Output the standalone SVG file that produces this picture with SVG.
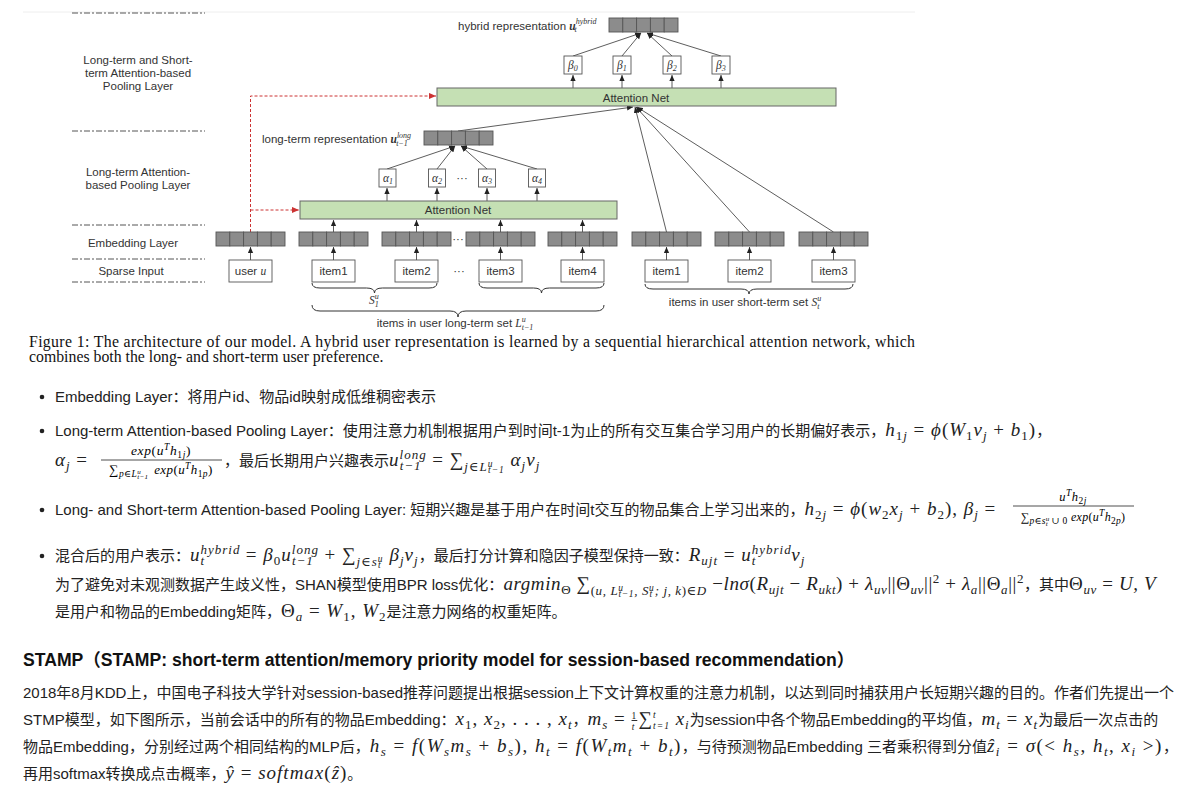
<svg xmlns="http://www.w3.org/2000/svg" width="1185" height="788" viewBox="0 0 1185 788">
<style>
.lab{font-family:"Liberation Sans",Arial,sans-serif;font-size:11.5px;fill:#333;text-anchor:middle}
.lbl{font-family:"Liberation Sans",Arial,sans-serif;font-size:11.5px;fill:#333}
.dd{stroke:#555;stroke-width:1;stroke-dasharray:6 2 2 2;fill:none}
.cell{fill:#8c8c8c;stroke:#555;stroke-width:0.9}
.box{fill:#fff;stroke:#555;stroke-width:0.9}
.an{fill:#c5e0b4;stroke:#666;stroke-width:1}
.ln{stroke:#333;stroke-width:0.8;fill:none}
.red{stroke:#cc3333;stroke-width:1;stroke-dasharray:3 2;fill:none}
.br{stroke:#333;stroke-width:1;fill:none}
.gm{font-family:"Liberation Serif","DejaVu Serif",serif;font-style:italic;font-size:11.5px;fill:#333}
.cap{font-family:"Liberation Serif",serif;font-size:15.8px;fill:#111}
.t{font-family:"Liberation Sans","Noto Sans CJK SC",sans-serif;font-size:15px;fill:#222}
.m{font-family:"Liberation Serif","DejaVu Serif",serif;font-style:italic;font-size:19px;letter-spacing:1px}
.mf{letter-spacing:0.6px}
.mw{letter-spacing:1.5px}
.n{font-style:normal}
.s{font-size:13px}
.ss{font-size:9.5px}
.sx{font-size:8px}
.h{font-family:"Liberation Sans","Noto Sans CJK SC",sans-serif;font-size:17.6px;font-weight:bold;fill:#111}
</style>
<defs>
<g id="vec">
<rect class="cell" x="0" y="0" width="13.8" height="14"/>
<rect class="cell" x="13.8" y="0" width="13.8" height="14"/>
<rect class="cell" x="27.6" y="0" width="13.8" height="14"/>
<rect class="cell" x="41.4" y="0" width="13.8" height="14"/>
<rect class="cell" x="55.2" y="0" width="13.8" height="14"/>
</g>
<marker id="a" viewBox="0 0 8 8" refX="8" refY="4" markerWidth="6" markerHeight="6" markerUnits="userSpaceOnUse" orient="auto"><path d="M0,0.5 L8,4 L0,7.5z" fill="#222"/></marker>
<marker id="ar" viewBox="0 0 8 8" refX="8" refY="4" markerWidth="7" markerHeight="7" markerUnits="userSpaceOnUse" orient="auto"><path d="M0,0.5 L8,4 L0,7.5z" fill="#cc3333"/></marker>
</defs>

<line x1="23" y1="12" x2="915" y2="12" stroke="#eeeeee" stroke-width="1"/>

<g id="layer-guides">
<line class="dd" x1="72" y1="13" x2="205" y2="13"/>
<line class="dd" x1="72" y1="131" x2="205" y2="131"/>
<line class="dd" x1="72" y1="225" x2="205" y2="225"/>
<line class="dd" x1="72" y1="259" x2="205" y2="259"/>
<line class="dd" x1="72" y1="282" x2="205" y2="282"/>
<text class="lab" x="138" y="64">Long-term and Short-</text>
<text class="lab" x="138" y="77">term Attention-based</text>
<text class="lab" x="138" y="90">Pooling  Layer</text>
<text class="lab" x="138" y="176">Long-term Attention-</text>
<text class="lab" x="138" y="189">based Pooling  Layer</text>
<text class="lab" x="133" y="247">Embedding  Layer</text>
<text class="lab" x="131" y="275">Sparse Input</text>
</g>

<g id="connectors">
<line class="ln" x1="250.5" y1="260" x2="250.5" y2="247" marker-end="url(#a)"/>
<line class="ln" x1="333.5" y1="260" x2="333.5" y2="247" marker-end="url(#a)"/>
<line class="ln" x1="416.5" y1="260" x2="416.5" y2="247" marker-end="url(#a)"/>
<line class="ln" x1="500.5" y1="260" x2="500.5" y2="247" marker-end="url(#a)"/>
<line class="ln" x1="582.5" y1="260" x2="582.5" y2="247" marker-end="url(#a)"/>
<line class="ln" x1="666.5" y1="260" x2="666.5" y2="247" marker-end="url(#a)"/>
<line class="ln" x1="749.5" y1="260" x2="749.5" y2="247" marker-end="url(#a)"/>
<line class="ln" x1="833.5" y1="260" x2="833.5" y2="247" marker-end="url(#a)"/>
<line class="ln" x1="333.5" y1="232" x2="333.5" y2="220" marker-end="url(#a)"/>
<line class="ln" x1="416.5" y1="232" x2="416.5" y2="220" marker-end="url(#a)"/>
<line class="ln" x1="500.5" y1="232" x2="500.5" y2="220" marker-end="url(#a)"/>
<line class="ln" x1="582.5" y1="232" x2="582.5" y2="220" marker-end="url(#a)"/>
<line class="ln" x1="387" y1="201" x2="387" y2="188" marker-end="url(#a)"/>
<line class="ln" x1="437" y1="201" x2="437" y2="188" marker-end="url(#a)"/>
<line class="ln" x1="487" y1="201" x2="487" y2="188" marker-end="url(#a)"/>
<line class="ln" x1="537" y1="201" x2="537" y2="188" marker-end="url(#a)"/>
<line class="ln" x1="387" y1="169" x2="455" y2="146" marker-end="url(#a)"/>
<line class="ln" x1="437" y1="169" x2="455" y2="146" marker-end="url(#a)"/>
<line class="ln" x1="487" y1="169" x2="461" y2="146" marker-end="url(#a)"/>
<line class="ln" x1="537" y1="169" x2="461" y2="146" marker-end="url(#a)"/>
<line class="ln" x1="458" y1="131" x2="633" y2="107" marker-end="url(#a)"/>
<line class="ln" x1="666.5" y1="232" x2="635" y2="107" marker-end="url(#a)"/>
<line class="ln" x1="749.5" y1="232" x2="636" y2="107" marker-end="url(#a)"/>
<line class="ln" x1="833.5" y1="232" x2="637" y2="107" marker-end="url(#a)"/>
<line class="ln" x1="573" y1="88" x2="573" y2="75" marker-end="url(#a)"/>
<line class="ln" x1="622" y1="88" x2="622" y2="75" marker-end="url(#a)"/>
<line class="ln" x1="672" y1="88" x2="672" y2="75" marker-end="url(#a)"/>
<line class="ln" x1="721" y1="88" x2="721" y2="75" marker-end="url(#a)"/>
<line class="ln" x1="573" y1="56" x2="641" y2="33" marker-end="url(#a)"/>
<line class="ln" x1="622" y1="56" x2="641" y2="33" marker-end="url(#a)"/>
<line class="ln" x1="672" y1="56" x2="647" y2="33" marker-end="url(#a)"/>
<line class="ln" x1="721" y1="56" x2="647" y2="33" marker-end="url(#a)"/>
<path class="red" d="M250.5,232 V96 H436" marker-end="url(#ar)"/>
<path class="red" d="M250.5,210 H299" marker-end="url(#ar)"/>
</g>

<g id="input-user"><rect class="box" x="229" y="260" width="43" height="22"/><text class="lab" x="250.5" y="275">user <tspan class="gm">u</tspan></text></g>
<g id="input-item1"><rect class="box" x="312" y="260" width="43" height="22"/><text class="lab" x="333.5" y="275">item1</text></g>
<g id="input-item2"><rect class="box" x="395" y="260" width="43" height="22"/><text class="lab" x="416.5" y="275">item2</text></g>
<g id="input-dots"><text class="lab" x="459" y="275">···</text></g>
<g id="input-item3"><rect class="box" x="479" y="260" width="43" height="22"/><text class="lab" x="500.5" y="275">item3</text></g>
<g id="input-item4"><rect class="box" x="561" y="260" width="43" height="22"/><text class="lab" x="582.5" y="275">item4</text></g>
<g id="input-s-item1"><rect class="box" x="645" y="260" width="43" height="22"/><text class="lab" x="666.5" y="275">item1</text></g>
<g id="input-s-item2"><rect class="box" x="728" y="260" width="43" height="22"/><text class="lab" x="749.5" y="275">item2</text></g>
<g id="input-s-item3"><rect class="box" x="812" y="260" width="43" height="22"/><text class="lab" x="833.5" y="275">item3</text></g>

<g id="emb-user"><use href="#vec" x="216" y="232"/></g>
<g id="emb-item1"><use href="#vec" x="299" y="232"/></g>
<g id="emb-item2"><use href="#vec" x="382" y="232"/><text class="lab" x="458" y="243">···</text></g>
<g id="emb-item3"><use href="#vec" x="466" y="232"/></g>
<g id="emb-item4"><use href="#vec" x="548" y="232"/></g>
<g id="emb-s-item1"><use href="#vec" x="632" y="232"/></g>
<g id="emb-s-item2"><use href="#vec" x="715" y="232"/></g>
<g id="emb-s-item3"><use href="#vec" x="799" y="232"/></g>

<g id="attention-net-long"><rect class="an" x="300" y="201" width="317" height="18"/><text class="lab" x="458" y="214">Attention Net</text></g>
<g id="alpha1"><rect class="box" x="379" y="169" width="17" height="18"/><text class="gm" x="383" y="182">α<tspan class="sx" dy="2">1</tspan></text></g>
<g id="alpha2"><rect class="box" x="428.5" y="169" width="17" height="18"/><text class="gm" x="432" y="182">α<tspan class="sx" dy="2">2</tspan></text></g>
<g id="alpha-dots"><text class="lab" x="462" y="182">···</text></g>
<g id="alpha3"><rect class="box" x="478.5" y="169" width="17" height="18"/><text class="gm" x="482" y="182">α<tspan class="sx" dy="2">3</tspan></text></g>
<g id="alpha4"><rect class="box" x="528.5" y="169" width="17" height="18"/><text class="gm" x="532" y="182">α<tspan class="sx" dy="2">4</tspan></text></g>
<g id="long-term-rep"><use href="#vec" x="424" y="131"/><text class="lbl" x="262" y="143">long-term representation <tspan class="gm" style="font-weight:bold">u</tspan><tspan class="gm sx" dy="-5">long</tspan><tspan class="gm sx" dy="8" dx="-15">t−1</tspan></text></g>

<g id="attention-net-hybrid"><rect class="an" x="437" y="88" width="399" height="18"/><text class="lab" x="636" y="102">Attention Net</text></g>
<g id="beta0"><rect class="box" x="564" y="56" width="18" height="18"/><text class="gm" x="568" y="69">β<tspan class="sx" dy="2">0</tspan></text></g>
<g id="beta1"><rect class="box" x="613" y="56" width="18" height="18"/><text class="gm" x="617" y="69">β<tspan class="sx" dy="2">1</tspan></text></g>
<g id="beta2"><rect class="box" x="663" y="56" width="18" height="18"/><text class="gm" x="667" y="69">β<tspan class="sx" dy="2">2</tspan></text></g>
<g id="beta3"><rect class="box" x="712" y="56" width="18" height="18"/><text class="gm" x="716" y="69">β<tspan class="sx" dy="2">3</tspan></text></g>
<g id="hybrid-rep"><use href="#vec" x="609" y="18"/><text class="lbl" x="458" y="30">hybrid representation <tspan class="gm" style="font-weight:bold">u</tspan><tspan class="gm sx" dy="-6">hybrid</tspan><tspan class="gm sx" dy="8" dx="-22">t</tspan></text></g>

<g id="braces">
<path class="br" d="M312,283 Q312,288 320,288 L366.5,288 Q374.5,288 374.5,293 Q374.5,288 382.5,288 L429,288 Q437,288 437,283"/>
<path class="br" d="M479,283 Q479,288 487,288 L533.5,288 Q541.5,288 541.5,293 Q541.5,288 549.5,288 L596,288 Q604,288 604,283"/>
<path class="br" d="M312,305 Q312,311 320,311 L450,311 Q458,311 458,317 Q458,311 466,311 L596,311 Q604,311 604,305"/>
<path class="br" d="M645,284 Q645,289 653,289 L741,289 Q749,289 749,294 Q749,289 757,289 L845,289 Q853,289 853,284"/>
<text class="gm" x="369" y="304">S<tspan class="sx" dy="-5">u</tspan><tspan class="sx" dy="8" dx="-4">1</tspan></text>
<text class="lab" x="745" y="306">items in user short-term set <tspan class="gm">S</tspan><tspan class="gm sx" dy="-5">u</tspan><tspan class="gm sx" dy="8" dx="-4">t</tspan></text>
<text class="lab" x="455" y="327">items in user long-term set <tspan class="gm">L</tspan><tspan class="gm sx" dy="-5">u</tspan><tspan class="gm sx" dy="8" dx="-4">t−1</tspan></text>
</g>

<g id="caption">
<text class="cap" x="29" y="347" textLength="886" lengthAdjust="spacing">Figure 1: The architecture of our model.  A hybrid user representation is learned by a sequential hierarchical attention network, which</text>
<text class="cap" x="29" y="362">combines both the long- and short-term user preference.</text>
</g>

<g id="bullets" fill="#222">
<circle cx="42" cy="397" r="2.3"/>
<circle cx="42" cy="431" r="2.3"/>
<circle cx="42" cy="510" r="2.3"/>
<circle cx="42" cy="556" r="2.3"/>
</g>

<g id="text-body">
<text class="t" x="55" y="402">Embedding Layer：将用户id、物品id映射成低维稠密表示</text>

<text class="t" x="55" y="436">Long-term Attention-based Pooling Layer：使用注意力机制根据用户到时间t-1为止的所有交互集合学习用户的长期偏好表示，<tspan class="m">h<tspan class="s n" dy="4">1</tspan><tspan class="s">j</tspan><tspan class="n" dy="-4"> = </tspan>ϕ<tspan class="n">(</tspan>W<tspan class="s n" dy="4">1</tspan><tspan dy="-4">v</tspan><tspan class="s" dy="4">j</tspan><tspan class="n" dy="-4"> + </tspan>b<tspan class="s n" dy="4">1</tspan><tspan class="n" dy="-4">)</tspan></tspan>，</text>

<text class="t" x="55" y="466"><tspan class="m">α<tspan class="s" dy="4">j</tspan><tspan class="n" dy="-4"> =</tspan></tspan></text>
<text class="m" x="161" y="455" text-anchor="middle" style="font-size:13.5px;letter-spacing:0.6px">exp<tspan class="n">(</tspan>u<tspan class="ss" dy="-5">T</tspan><tspan dy="5">h</tspan><tspan class="ss n" dy="3">1</tspan><tspan class="ss">j</tspan><tspan class="n" dy="-3">)</tspan></text>
<line x1="101" y1="460" x2="222" y2="460" stroke="#222" stroke-width="0.8"/>
<text class="m" x="161" y="474" text-anchor="middle" style="font-size:13px;letter-spacing:0.4px"><tspan class="n">∑</tspan><tspan class="ss" dy="3">p∈L</tspan><tspan style="font-size:7px" dy="-3">u</tspan><tspan style="font-size:7px" dy="5" dx="-4">t−1</tspan><tspan dy="-5" dx="2"> exp</tspan><tspan class="n">(</tspan>u<tspan class="ss" dy="-5">T</tspan><tspan dy="5">h</tspan><tspan class="ss n" dy="3">1</tspan><tspan class="ss">p</tspan><tspan class="n" dy="-3">)</tspan></text>
<text class="t" x="224" y="466">，最后长期用户兴趣表示<tspan class="m">u<tspan class="s" dy="-7">long</tspan><tspan class="s" dy="11" dx="-27">t−1</tspan><tspan class="n" dy="-4" dx="5"> = ∑</tspan><tspan class="s" dy="5">j∈L</tspan><tspan class="ss" dy="-4">u</tspan><tspan class="ss" dy="6" dx="-5.5">t−1</tspan><tspan dy="-7"> α</tspan><tspan class="s" dy="4">j</tspan><tspan dy="-4">v</tspan><tspan class="s" dy="4">j</tspan></tspan></text>

<text class="t" x="55" y="515">Long- and Short-term Attention-based Pooling Layer: 短期兴趣是基于用户在时间t交互的物品集合上学习出来的，<tspan class="m">h<tspan class="s n" dy="4">2</tspan><tspan class="s">j</tspan><tspan class="n" dy="-4"> = </tspan>ϕ<tspan class="n">(</tspan>w<tspan class="s n" dy="4">2</tspan><tspan dy="-4">x</tspan><tspan class="s" dy="4">j</tspan><tspan class="n" dy="-4"> + </tspan>b<tspan class="s n" dy="4">2</tspan><tspan class="n" dy="-4">), </tspan>β<tspan class="s" dy="4">j</tspan><tspan class="n" dy="-4"> =</tspan></tspan></text>
<text class="m" x="1073" y="501" text-anchor="middle" style="font-size:12.5px;letter-spacing:0.5px">u<tspan class="ss" dy="-5">T</tspan><tspan dy="5">h</tspan><tspan class="ss n" dy="3">2</tspan><tspan class="ss">j</tspan></text>
<line x1="1013" y1="506" x2="1134" y2="506" stroke="#222" stroke-width="0.8"/>
<text class="m" x="1073" y="521" text-anchor="middle" style="font-size:12px;letter-spacing:0.3px"><tspan class="n">∑</tspan><tspan class="ss" dy="3">p∈s</tspan><tspan style="font-size:7px" dy="-3">u</tspan><tspan style="font-size:7px" dy="5" dx="-4">t</tspan><tspan class="ss n" dy="-2" dx="1"> ∪ 0</tspan><tspan dy="-3"> exp</tspan><tspan class="n">(</tspan>u<tspan class="ss" dy="-5">T</tspan><tspan dy="5">h</tspan><tspan class="ss n" dy="3">2</tspan><tspan class="ss">p</tspan><tspan class="n" dy="-3">)</tspan></text>

<text class="t" x="55" y="561">混合后的用户表示：<tspan class="m">u<tspan class="s" dy="-7">hybrid</tspan><tspan class="s" dy="11" dx="-40">t</tspan><tspan class="n" dy="-4" dx="35"> = </tspan>β<tspan class="s n" dy="4">0</tspan><tspan dy="-4">u</tspan><tspan class="s" dy="-7">long</tspan><tspan class="s" dy="11" dx="-27">t−1</tspan><tspan class="n" dy="-4" dx="5"> + ∑</tspan><tspan class="s" dy="5">j∈s</tspan><tspan class="ss" dy="-4">u</tspan><tspan class="ss" dy="6" dx="-5.5">t</tspan><tspan dy="-7" dx="2"> β</tspan><tspan class="s" dy="4">j</tspan><tspan dy="-4">v</tspan><tspan class="s" dy="4">j</tspan></tspan><tspan dy="-4">，最后打分计算和隐因子模型保持一致：</tspan><tspan class="m">R<tspan class="s" dy="4">ujt</tspan><tspan class="n" dy="-4"> = </tspan>u<tspan class="s" dy="-7">hybrid</tspan><tspan class="s" dy="11" dx="-40">t</tspan><tspan dy="-4" dx="35">v</tspan><tspan class="s" dy="4">j</tspan></tspan></text>

<text class="t" x="55" y="590">为了避免对未观测数据产生歧义性，SHAN模型使用BPR loss优化：<tspan class="m mf">argmin<tspan class="s n" dy="4">Θ</tspan><tspan class="n" dy="-4"> ∑</tspan><tspan class="s" dy="5"><tspan class="n">(</tspan>u, L</tspan><tspan class="ss" dy="-4">u</tspan><tspan class="ss" dy="6" dx="-5">t−1</tspan><tspan class="s" dy="-2">, S</tspan><tspan class="ss" dy="-4">u</tspan><tspan class="ss" dy="6" dx="-5">t</tspan><tspan class="s" dy="-2" dx="2">; j, k</tspan><tspan class="s n">)∈</tspan><tspan class="s">D</tspan><tspan class="n" dy="-5"> −</tspan>lnσ<tspan class="n">(</tspan>R<tspan class="s" dy="4">ujt</tspan><tspan class="n" dy="-4"> − </tspan>R<tspan class="s" dy="4">ukt</tspan><tspan class="n" dy="-4">) + </tspan>λ<tspan class="s" dy="4">uv</tspan><tspan class="n" dy="-4">||Θ</tspan><tspan class="s" dy="4">uv</tspan><tspan class="n" dy="-4">||</tspan><tspan class="s n" dy="-7">2</tspan><tspan class="n" dy="7"> + </tspan>λ<tspan class="s" dy="4">a</tspan><tspan class="n" dy="-4">||Θ</tspan><tspan class="s" dy="4">a</tspan><tspan class="n" dy="-4">||</tspan><tspan class="s n" dy="-7">2</tspan></tspan><tspan dy="7">，其中</tspan><tspan class="m mf"><tspan class="n">Θ</tspan><tspan class="s" dy="4">uv</tspan><tspan class="n" dy="-4"> = </tspan>U, V</tspan></text>

<text class="t" x="55" y="617">是用户和物品的Embedding矩阵，<tspan class="m"><tspan class="n">Θ</tspan><tspan class="s" dy="4">a</tspan><tspan class="n" dy="-4"> = </tspan>W<tspan class="s n" dy="4">1</tspan><tspan class="n" dy="-4">, </tspan>W<tspan class="s n" dy="4">2</tspan></tspan><tspan dy="-4">是注意力网络的权重矩阵。</tspan></text>

<text class="h" x="23" y="666">STAMP（STAMP: short-term attention/memory priority model for session-based recommendation）</text>

<text class="t" x="23" y="698">2018年8月KDD上，中国电子科技大学针对session-based推荐问题提出根据session上下文计算权重的注意力机制，以达到同时捕获用户长短期兴趣的目的。作者们先提出一个</text>

<text class="t" x="23" y="725">STMP模型，如下图所示，当前会话中的所有的物品Embedding：<tspan class="m">x<tspan class="s n" dy="4">1</tspan><tspan class="n" dy="-4">, </tspan>x<tspan class="s n" dy="4">2</tspan><tspan class="n" dy="-4">, . . . , </tspan>x<tspan class="s" dy="4">t</tspan></tspan><tspan dy="-4">，</tspan><tspan class="m">m<tspan class="s" dy="4">s</tspan><tspan class="n" dy="-4"> = </tspan><tspan class="ss n" dy="-6" style="text-decoration:underline">1</tspan><tspan class="ss" dy="11" dx="-5.5">t</tspan><tspan class="n" dy="-5" dx="3">∑</tspan><tspan class="ss" dy="-7">t</tspan><tspan class="ss" dy="11" dx="-3.5">t=1</tspan><tspan dy="-4"> x</tspan><tspan class="s" dy="4">i</tspan></tspan><tspan dy="-4">为session中各个物品Embedding的平均值，</tspan><tspan class="m">m<tspan class="s" dy="4">t</tspan><tspan class="n" dy="-4"> = </tspan>x<tspan class="s" dy="4">t</tspan></tspan><tspan dy="-4">为最后一次点击的</tspan></text>

<text class="t" x="23" y="752">物品Embedding，分别经过两个相同结构的MLP后，<tspan class="m mw">h<tspan class="s" dy="4">s</tspan><tspan class="n" dy="-4"> = </tspan>f<tspan class="n">(</tspan>W<tspan class="s" dy="4">s</tspan><tspan dy="-4">m</tspan><tspan class="s" dy="4">s</tspan><tspan class="n" dy="-4"> + </tspan>b<tspan class="s" dy="4">s</tspan><tspan class="n" dy="-4">), </tspan>h<tspan class="s" dy="4">t</tspan><tspan class="n" dy="-4"> = </tspan>f<tspan class="n">(</tspan>W<tspan class="s" dy="4">t</tspan><tspan dy="-4">m</tspan><tspan class="s" dy="4">t</tspan><tspan class="n" dy="-4"> + </tspan>b<tspan class="s" dy="4">t</tspan><tspan class="n" dy="-4">)</tspan></tspan>，与待预测物品Embedding 三者乘积得到分值<tspan class="m mw">ẑ<tspan class="s" dy="4">i</tspan><tspan class="n" dy="-4"> = </tspan>σ<tspan class="n">(&lt; </tspan>h<tspan class="s" dy="4">s</tspan><tspan class="n" dy="-4">, </tspan>h<tspan class="s" dy="4">t</tspan><tspan class="n" dy="-4">, </tspan>x<tspan class="s" dy="4">i</tspan><tspan class="n" dy="-4"> &gt;)</tspan></tspan>，</text>

<text class="t" x="23" y="779">再用softmax转换成点击概率，<tspan class="m">ŷ<tspan class="n"> = </tspan>softmax<tspan class="n">(</tspan>ẑ<tspan class="n">)</tspan></tspan>。</text>
</g>
</svg>
